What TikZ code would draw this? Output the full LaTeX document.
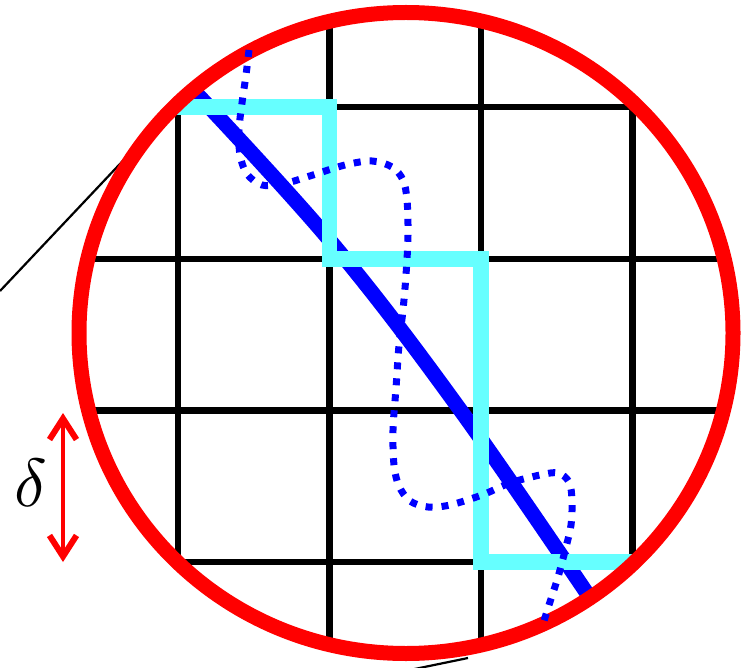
\documentclass[tikz,border=0pt]{standalone}
\usetikzlibrary{arrows.meta}
\definecolor{stepcyan}{RGB}{102,255,255}
\begin{document}
\begin{tikzpicture}[x=1pt,y=-1pt,
  gridline/.style={black, line width=6.5pt},
  bluepath/.style={blue, line width=15pt},
  stair/.style={stepcyan, line width=15.5pt},
  ringline/.style={red, line width=15pt},
  dotline/.style={blue, line width=7pt, dash pattern=on 7pt off 9pt},
  outline/.style={black, line width=2.2pt},
  deltaarrow/.style={red, line width=3.3pt, >={Straight Barb[length=21pt,width=27pt,line width=6pt]}, <->}]
\useasboundingbox (0,0) rectangle (741,668);
\coordinate (C) at (406,333);
\begin{scope}
  \clip (C) ellipse [x radius=327pt, y radius=320.5pt];
  \foreach \x in {178,329.5,481,632.5} \draw[gridline] (\x,0) -- (\x,668);
  \foreach \y in {107,259,410.5,562} \draw[gridline] (0,\y) -- (741,\y);
  \draw[bluepath] plot[smooth,tension=0.6] coordinates {(180,76) (329.5,240) (461,411) (605,620)};
  \draw[stair] (150,107) -- (329.5,107) -- (329.5,259) -- (481,259) -- (481,562) -- (680,562);
\end{scope}
\coordinate (L0) at (0,291);
\coordinate (L1) at (160,121.5);
\coordinate (B0) at (405,671);
\coordinate (B1) at (468,658);
\draw[outline] (L0) -- (L1);
\draw[outline] (B0) -- (B1);
\draw[ringline] (C) ellipse [x radius=327pt, y radius=320.5pt];
\draw[dotline] plot[smooth, tension=0.55] coordinates {(249,50) (246,75) (242,103) (239,130) (240,155) (247,174) (262,185) (283,184) (313,175) (345,165) (372,161) (392,167) (403,180) (407,200) (408,235) (406,275) (403,310) (399,345) (396,388) (393,430) (394,465) (399,486) (410,501) (428,507) (450,505) (482,495) (510,483) (540,475) (558,473) (569,482) (572,500) (571,525) (566,547) (558,577) (549,605) (543,624)};
\coordinate (A0) at (63,413);
\coordinate (A1) at (63,562);
\draw[deltaarrow] (A0) -- (A1);
\node[scale=6.8, inner sep=0pt] (delta) at (31,482.5) {$\delta$};
\end{tikzpicture}
\end{document}
